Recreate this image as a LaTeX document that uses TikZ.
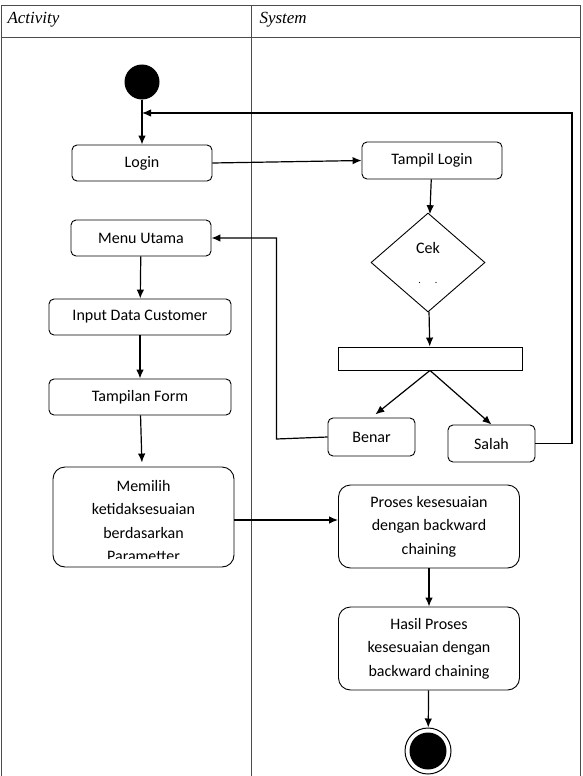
\documentclass[tikz,border=0pt]{standalone}
\usepackage{fontspec}
\setmainfont{Carlito}
\newfontfamily\judul{Liberation Serif}
\usetikzlibrary{arrows, arrows.meta, positioning, shapes}

\begin{document}
\begin{tikzpicture}[x=1pt, y=-1pt, >={Latex[length=9pt, width=7.5pt]},
    aksi/.style={draw, line width=0.9pt, rounded corners=5pt, inner sep=0pt, align=center, font=\fontsize{16}{23.5}\selectfont},
    besar/.style={aksi, rounded corners=12pt, minimum width=181pt},
    tabel/.style={draw=black!70, line width=0.8pt},
    panah/.style={->, line width=1.2pt}]
    \useasboundingbox (0,0) rectangle (582,776);

    % Tabel
    \draw[tabel] (1,776) -- (1,5) -- (580,5) -- (580,776);
    \draw[tabel] (1,37) -- (580,37);
    \draw[tabel] (251,5) -- (251,776);
    \node[anchor=base west, font=\judul\itshape\fontsize{17}{20}\selectfont] (activity) at (4,24) {Activity};
    \node[anchor=base west, font=\judul\itshape\fontsize{17}{20}\selectfont] (system) at (256,24) {System};

    % Node
    \node[circle, fill=black, minimum size=35pt, inner sep=0pt] (mulai) at (142,82) {};
    \coordinate (masuk) at (142,113);
    \coordinate (belok) at (572,113);
    \node[aksi, minimum width=140pt, minimum height=36pt] (login) at (142,163) {Login};
    \node[aksi, minimum width=140pt, minimum height=37pt] (tampil) at (432,160.5) {Tampil Login};
    \node[draw, line width=0.9pt, diamond, inner sep=0pt, minimum width=114pt, minimum height=99pt, align=center,
          font=\fontsize{16}{20}\selectfont] (cek) at (428,262.5) {Cek\\[10pt]{\fontsize{10}{10}\selectfont .\hspace{14pt}.}};
    \node[draw, line width=0.9pt, minimum width=184pt, minimum height=23pt, inner sep=0pt] (bar) at (430,358.5) {};
    \node[aksi, minimum width=87pt, minimum height=38pt] (benar) at (371.5,437) {Benar};
    \node[aksi, minimum width=87pt, minimum height=37pt] (salah) at (491.5,443.5) {Salah};
    \node[aksi, minimum width=140pt, minimum height=36pt] (menu) at (141,238) {Menu Utama};
    \node[aksi, minimum width=182pt, minimum height=36pt] (input) at (140,317) {Input Data Customer};
    \node[aksi, minimum width=182pt, minimum height=36pt] (form) at (140,397) {Tampilan Form};
    \node[besar, minimum height=100pt] (memilih) at (143.5,517) {};
    \begin{scope}
        \clip (memilih.north west) rectangle ([yshift=9pt]memilih.south east);
        \node[aksi, draw=none, anchor=north] (memilihteks) at ([yshift=-13pt]memilih.north)
            {Memilih\\ketidaksesuaian\\berdasarkan\\Parametter};
    \end{scope}
    \node[besar, minimum height=83pt] (proses) at (429,526.5) {Proses kesesuaian\\dengan backward\\chaining};
    \node[besar, minimum height=83pt] (hasil) at (429,648.5) {Hasil Proses\\kesesuaian dengan\\backward chaining};
    \node[circle, draw, line width=1pt, minimum size=46pt, inner sep=0pt,
          path picture={\fill (path picture bounding box.center) circle (18.5pt);}] (selesai) at (428,751) {};

    % Garis
    \draw[panah] (mulai) -- (login);
    \draw[panah] (salah.east) -| (belok) -- (masuk);
    \draw[panah] (login.east) -- (tampil.west);
    \draw[panah] (tampil) -- (cek);
    \draw[panah] (cek) -- (bar);
    \draw[panah, shorten >=5pt] (bar.south) -- (benar.north);
    \draw[panah] (bar.south) -- (salah.north);
    \draw[panah] (benar.west) -- ++(-51,2) |- (menu.east);
    \draw[panah] (menu) -- (input);
    \draw[panah] (input) -- (form);
    \draw[panah, shorten >=4pt] (form) -- (memilih);
    \draw[panah] (memilih.east |- 0,520) -- (proses.west |- 0,520);
    \draw[panah] (proses) -- (hasil);
    \draw[panah] (hasil) -- (selesai);
\end{tikzpicture}
\end{document}
